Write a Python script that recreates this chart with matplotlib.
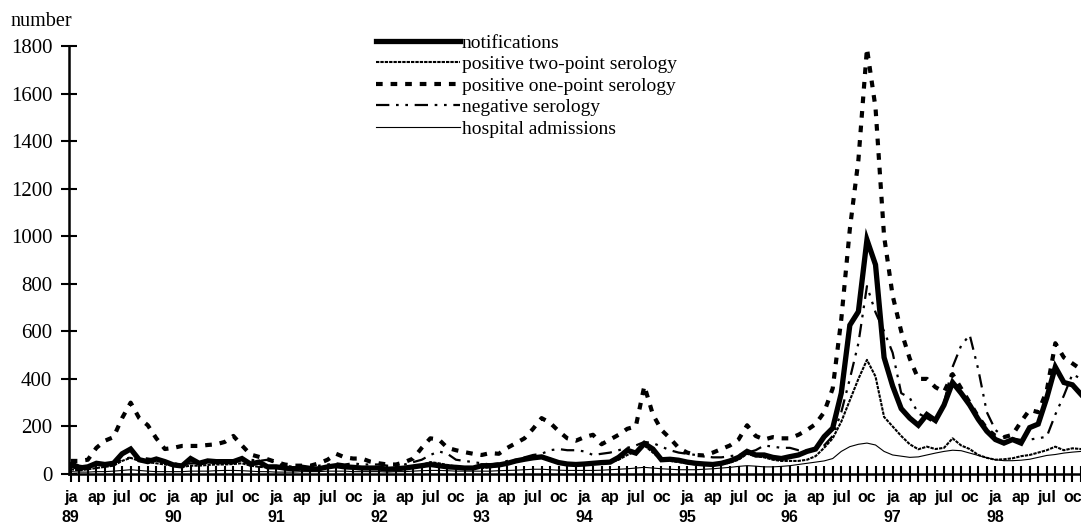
import matplotlib
matplotlib.use('Agg')
import matplotlib.pyplot as plt

#
#--- monthly counts, jan 1989 .. nov 1998
#
notifications = [
    38, 25, 30, 45, 40, 45, 85, 105, 60, 52, 63, 52,
    38, 34, 65, 45, 55, 52, 52, 52, 65, 42, 50, 30,
    30, 25, 22, 25, 20, 22, 30, 35, 30, 28, 25, 25,
    25, 20, 22, 25, 30, 35, 40, 35, 30, 28, 25, 25,
    35, 35, 38, 45, 55, 62, 68, 72, 60, 48, 42, 40,
    42, 45, 48, 50, 70, 100, 88, 128, 105, 60, 62, 58,
    50, 45, 42, 40, 45, 55, 70, 95, 80, 80, 70, 65,
    73, 80, 95, 105, 157, 193, 340, 626, 683, 985, 880, 490,
    370, 275, 235, 205, 250, 225, 290, 385, 340, 290, 230, 180,
    145, 130, 145, 130, 195, 210, 320, 450, 385, 375, 335]

two_point = [
    20, 15, 20, 25, 30, 35, 55, 68, 55, 50, 45, 40,
    35, 30, 35, 35, 38, 40, 40, 42, 45, 35, 30, 28,
    25, 20, 18, 20, 20, 22, 28, 32, 30, 28, 25, 25,
    22, 20, 20, 25, 30, 38, 50, 45, 38, 32, 28, 25,
    25, 28, 35, 45, 55, 62, 70, 75, 65, 50, 40, 38,
    40, 45, 48, 50, 60, 80, 95, 120, 90, 60, 55, 50,
    45, 40, 38, 38, 40, 48, 60, 85, 75, 70, 60, 55,
    55, 55, 60, 75, 110, 150, 220, 310, 400, 480, 410, 240,
    200, 160, 125, 104, 115, 105, 110, 150, 120, 105, 80, 68,
    60, 62, 66, 75, 80, 90, 100, 115, 100, 108, 105]

one_point = [
    55, 55, 60, 110, 140, 155, 235, 300, 235, 205, 150, 105,
    110, 118, 118, 118, 122, 125, 135, 160, 120, 82, 72, 62,
    50, 40, 35, 35, 35, 45, 60, 85, 70, 65, 65, 52,
    45, 40, 40, 50, 65, 110, 150, 145, 110, 100, 92, 85,
    80, 88, 85, 110, 130, 150, 190, 235, 215, 180, 150, 140,
    155, 165, 125, 145, 165, 190, 200, 370, 250, 185, 150, 110,
    90, 80, 78, 90, 105, 120, 145, 205, 160, 145, 155, 150,
    150, 165, 185, 210, 260, 360, 650, 1030, 1320, 1790, 1540, 1000,
    750, 600, 485, 400, 400, 365, 345, 420, 360, 300, 240, 190,
    160, 155, 165, 220, 270, 260, 350, 550, 490, 465, 440]

negative = [
    50, 35, 30, 40, 40, 45, 60, 70, 70, 65, 60, 50,
    45, 40, 45, 45, 48, 50, 50, 55, 60, 60, 55, 60,
    45, 35, 30, 35, 30, 35, 40, 45, 40, 45, 40, 40,
    40, 35, 35, 40, 50, 60, 80, 95, 85, 60, 55, 50,
    45, 40, 45, 55, 60, 70, 80, 85, 100, 105, 100, 100,
    95, 80, 85, 90, 100, 110, 120, 135, 130, 115, 100, 90,
    85, 80, 75, 70, 70, 75, 80, 90, 100, 120, 115, 110,
    110, 100, 100, 105, 120, 160, 260, 400, 550, 790, 680, 600,
    510, 340, 320, 255, 235, 213, 300, 450, 540, 585, 440, 260,
    185, 157, 150, 143, 145, 150, 157, 250, 330, 420, 400]

hospital = [
    10, 8, 8, 10, 10, 12, 15, 18, 15, 12, 10, 10,
    10, 10, 12, 12, 12, 14, 15, 15, 14, 12, 10, 10,
    8, 8, 8, 10, 10, 10, 12, 12, 12, 10, 10, 10,
    10, 8, 10, 10, 12, 14, 15, 15, 14, 12, 12, 12,
    12, 12, 14, 15, 16, 18, 20, 20, 18, 16, 15, 15,
    15, 15, 16, 18, 20, 22, 25, 28, 25, 22, 20, 18,
    18, 18, 20, 22, 25, 28, 32, 35, 33, 30, 30, 32,
    35, 40, 45, 50, 55, 65, 95, 115, 125, 130, 122, 95,
    80, 75, 70, 72, 80, 88, 95, 100, 98, 88, 78, 68,
    60, 56, 56, 58, 62, 70, 78, 82, 88, 92, 95]

month_names = ['ja', 'ap', 'jul', 'oc']
years       = ['89', '90', '91', '92', '93', '94', '95', '96', '97', '98']
y_ticks     = [0, 200, 400, 600, 800, 1000, 1200, 1400, 1600, 1800]

serif  = ['Liberation Serif', 'DejaVu Serif']
narrow = ['Liberation Sans Narrow', 'Liberation Sans', 'DejaVu Sans']

months = list(range(len(notifications)))

#
#--- figure and axes
#
fig = plt.figure(figsize=(10.81, 5.24), dpi=100)
ax  = fig.add_axes([69 / 1081, 50 / 524, 1 - 69 / 1081, 428 / 524])

#
#--- data lines
#
ax.plot(months, hospital, color='black', lw=0.8, label='hospital admissions', zorder=2)
ax.plot(months, negative, color='black', lw=1.6,
        linestyle=(0, (6, 3, 1.2, 3, 1.2, 3)), label='negative serology', zorder=3)
ax.plot(months, one_point, color='black', lw=3.0,
        linestyle=(0, (1.6, 1.9)), label='positive one-point serology', zorder=4)
ax.plot(months, two_point, color='black', lw=1.5,
        linestyle=(0, (1.6, 0.5)), label='positive two-point serology', zorder=5)
ax.plot(months, notifications, color='black', lw=3.8, label='notifications', zorder=6,
        solid_joinstyle='miter')

#
#--- axis ranges and spines
#
ax.set_xlim(-0.2, len(notifications) - 1)
ax.set_ylim(0, 1800)
for side in ['top', 'right']:
    ax.spines[side].set_visible(False)
for side in ['left', 'bottom']:
    ax.spines[side].set_linewidth(1.8)
ax.spines['bottom'].set_zorder(1)

#
#--- ticks
#
ax.set_yticks(y_ticks)
ax.set_yticklabels([str(v) for v in y_ticks], family=serif, fontsize=15)
ax.tick_params(axis='y', direction='inout', length=12, width=1.5, pad=6)

xlabels = []
for m in months:
    if m % 3 == 0:
        name = month_names[(m % 12) // 3]
        if m % 12 == 0:
            xlabels.append(name + '\n' + years[m // 12])
        else:
            xlabels.append(name + '\n ')
    else:
        xlabels.append('')
ax.set_xticks(months)
ax.set_xticklabels(xlabels, family=narrow, fontsize=11.5, fontweight='bold', linespacing=1.45)
ax.tick_params(axis='x', direction='inout', length=11, width=1.5, pad=6)

#
#--- y axis title
#
fig.text(10 / 1081, 1 - 22 / 524, 'number', family=serif, fontsize=14.5, va='center', ha='left')

#
#--- legend
#
handles, labels = ax.get_legend_handles_labels()
order = ['notifications', 'positive two-point serology', 'positive one-point serology',
         'negative serology', 'hospital admissions']
hl = dict(zip(labels, handles))
leg = fig.legend([hl[k] for k in order], order, loc='upper left',
                 bbox_to_anchor=(376 / 1081, 1 - 34 / 524), frameon=False,
                 prop={'family': serif, 'size': 14}, handlelength=4.3,
                 handletextpad=0.1, labelspacing=0.2, borderpad=0, borderaxespad=0)

plt.savefig('out.png', dpi=100)
